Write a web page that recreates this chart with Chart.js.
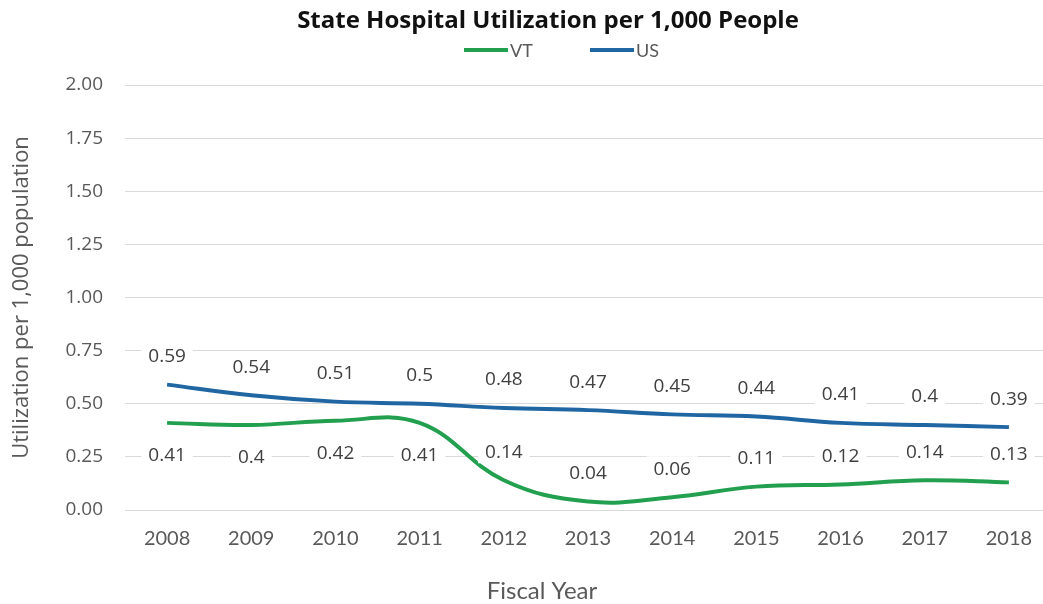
<!DOCTYPE html>
<html>
<head>
<meta charset="utf-8">
<script src="https://cdn.jsdelivr.net/npm/chart.js@4.4.0/dist/chart.umd.min.js"></script>
<style>
    html, body { margin: 0; padding: 0; background: #fff; overflow: hidden; }
    #wrap { width: 1052px; height: 604px; position: relative; }
</style>
</head>
<body>
<div id="wrap"><canvas id="utilChart"></canvas></div>
<script>
const years = ['2008', '2009', '2010', '2011', '2012', '2013', '2014', '2015', '2016', '2017', '2018'];
const vtValues = [0.41, 0.40, 0.42, 0.41, 0.14, 0.04, 0.06, 0.11, 0.12, 0.14, 0.13];
const usValues = [0.59, 0.54, 0.51, 0.50, 0.48, 0.47, 0.45, 0.44, 0.41, 0.40, 0.39];
// which side of the line each VT label sits on
const vtLabelSide = ['below', 'below', 'below', 'below', 'above', 'above', 'above', 'above', 'above', 'above', 'above'];

const VT_COLOR = '#23a04f';
const US_COLOR = '#1f66a2';
const TEXT_GRAY = '#595959';

// point value labels with white boxes (they cut the gridlines like in Excel)
const valueLabels = {
    id: 'valueLabels',
    afterDatasetsDraw(chart) {
        const ctx = chart.ctx;
        ctx.save();
        ctx.font = '19px "Open Sans"';
        ctx.textAlign = 'center';
        ctx.textBaseline = 'middle';
        chart.data.datasets.forEach((ds, di) => {
            const meta = chart.getDatasetMeta(di);
            meta.data.forEach((pt, i) => {
                const text = String(ds.data[i]);
                const side = ds.label === 'VT' ? vtLabelSide[i] : 'above';
                const y = side === 'above' ? pt.y - 29 : pt.y + 32;
                const w = ctx.measureText(text).width + 14;
                ctx.fillStyle = '#fff';
                ctx.fillRect(pt.x - w / 2, y - 12, w, 24);
                ctx.fillStyle = '#404040';
                ctx.fillText(text, pt.x, y + 1);
            });
        });
        ctx.restore();
    }
};

// title, legend and x title drawn by hand: the original picture is cropped,
// so they are not centred on the canvas
const header = {
    id: 'header',
    afterDraw(chart) {
        const ctx = chart.ctx;
        ctx.save();
        ctx.textBaseline = 'middle';
        ctx.textAlign = 'center';
        ctx.fillStyle = '#111';
        ctx.font = 'bold 24px "Open Sans"';
        ctx.fillText('State Hospital Utilization per 1,000 People', 548, 21);

        ctx.fillStyle = TEXT_GRAY;
        ctx.font = '24px Lato';
        ctx.fillText('Fiscal Year', 542, 591);

        const items = [
            { x: 464, ds: chart.data.datasets[0] },
            { x: 590, ds: chart.data.datasets[1] }
        ];
        ctx.textAlign = 'left';
        ctx.font = '18px Lato';
        items.forEach(it => {
            ctx.strokeStyle = it.ds.borderColor;
            ctx.lineWidth = 4;
            ctx.beginPath();
            ctx.moveTo(it.x, 50);
            ctx.lineTo(it.x + 44, 50);
            ctx.stroke();
            ctx.fillStyle = TEXT_GRAY;
            ctx.fillText(it.ds.label, it.x + 46, 51);
        });
        ctx.restore();
    }
};

new Chart(document.getElementById('utilChart'), {
    type: 'line',
    data: {
        labels: years,
        datasets: [
            {
                label: 'VT',
                data: vtValues,
                borderColor: VT_COLOR,
                backgroundColor: VT_COLOR,
                borderWidth: 4,
                tension: 0.4,
                pointRadius: 0,
                fill: false
            },
            {
                label: 'US',
                data: usValues,
                borderColor: US_COLOR,
                backgroundColor: US_COLOR,
                borderWidth: 4,
                tension: 0.4,
                pointRadius: 0,
                fill: false
            }
        ]
    },
    options: {
        responsive: true,
        maintainAspectRatio: false,
        animation: false,
        layout: { padding: { top: 85, right: 1, bottom: 0, left: 0 } },
        plugins: {
            legend: { display: false },
            tooltip: { enabled: false },
            title: { display: false }
        },
        scales: {
            x: {
                offset: true,
                grid: { display: false, drawTicks: false },
                border: { display: false },
                ticks: {
                    color: TEXT_GRAY,
                    font: { family: 'Lato', size: 20 },
                    padding: 17,
                    maxRotation: 0
                },
                afterFit(scale) { scale.height = 94; }
            },
            y: {
                min: 0,
                max: 2,
                grid: { color: '#d9d9d9', lineWidth: 1, drawTicks: false },
                border: { display: false },
                ticks: {
                    stepSize: 0.25,
                    color: TEXT_GRAY,
                    font: { family: '"Open Sans"', size: 19 },
                    padding: 22,
                    callback: (v) => v.toFixed(2)
                },
                title: {
                    display: true,
                    text: 'Utilization per 1,000 population',
                    color: TEXT_GRAY,
                    font: { family: '"Open Sans"', size: 22 },
                    padding: { top: 9, bottom: 0 }
                },
                afterFit(scale) { scale.width = 125; }
            }
        }
    },
    plugins: [valueLabels, header]
});
</script>
</body>
</html>
